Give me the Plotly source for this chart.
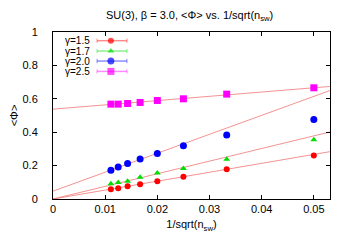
import plotly.graph_objects as go

# ---- data ----
x_vals = [0.0111, 0.0125, 0.0143, 0.0167, 0.0200, 0.0250, 0.0333, 0.0500]
phi_g15 = [0.059, 0.065, 0.076, 0.088, 0.106, 0.133, 0.178, 0.261]
phi_g17 = [0.091, 0.099, 0.106, 0.130, 0.156, 0.182, 0.238, 0.355]
phi_g20 = [0.172, 0.192, 0.212, 0.240, 0.273, 0.319, 0.383, 0.476]
phi_g25 = [0.568, 0.568, 0.572, 0.578, 0.590, 0.600, 0.628, 0.666]
series_names = ["γ=1.5", "γ=1.7", "γ=2.0", "γ=2.5"]
fit_slope = [5.34, 7.56, 11.35, 2.56]
fit_intercept = [0.0, 0.0, 0.047, 0.538]
x_ticks = [0, 0.01, 0.02, 0.03, 0.04, 0.05]
y_ticks = [0, 0.2, 0.4, 0.6, 0.8, 1]
x_range = [0, 0.0531]

series = [phi_g15, phi_g17, phi_g20, phi_g25]
colors = ["#ff0000", "#00dd00", "#0000ff", "#ff00ff"]
light = ["rgba(255,0,0,0.45)", "rgba(0,220,0,0.45)", "rgba(0,0,255,0.45)", "rgba(255,0,255,0.45)"]
symbols = ["circle", "triangle-up", "circle", "square"]
sizes = [6, 6, 7, 7]
FONT = "Liberation Sans, Arial, Helvetica, sans-serif"

fig = go.Figure()

# fit lines
for s, b in zip(fit_slope, fit_intercept):
    fig.add_trace(go.Scatter(
        x=x_range, y=[b + s * x_range[0], b + s * x_range[1]],
        mode="lines", line=dict(color="rgba(240,110,110,0.75)", width=1),
        showlegend=False, hoverinfo="skip"))

# data points
for ys, c, sym, sz, nm in zip(series, colors, symbols, sizes, series_names):
    fig.add_trace(go.Scatter(
        x=x_vals, y=ys, mode="markers", name=nm,
        marker=dict(color=c, symbol=sym, size=sz, line=dict(width=0)),
        showlegend=False))

# manual legend (gnuplot style: text left, sample right)
leg_y = [0.948, 0.886, 0.826, 0.764]
lx0, lx1, lxm, ltext = 0.159, 0.267, 0.209, 0.141
for i, nm in enumerate(series_names):
    y = leg_y[i]
    fig.add_annotation(x=ltext, y=y, xref="paper", yref="paper", text=nm,
                       showarrow=False, xanchor="right", yanchor="middle",
                       font=dict(family=FONT, size=10, color="black"))
    fig.add_shape(type="line", xref="paper", yref="paper", x0=lx0, x1=lx1, y0=y, y1=y,
                  line=dict(color=light[i], width=1.5))
    for xc in (lx0, lx1):
        fig.add_shape(type="line", xref="paper", yref="paper", x0=xc, x1=xc,
                      y0=y - 0.013, y1=y + 0.013, line=dict(color=light[i], width=1))
fig.add_trace(go.Scatter(
    x=[lxm] * 4, y=leg_y, xaxis="x2", yaxis="y2", mode="markers",
    marker=dict(color=colors, symbol=symbols, size=sizes, line=dict(width=0)),
    showlegend=False, hoverinfo="skip"))

# title
fig.add_annotation(x=0.494, y=1.143, xref="paper", yref="paper",
                   text="SU(3), β = 3.0, <Φ> vs. 1/sqrt(n<sub>sw</sub>)",
                   showarrow=False, xanchor="center", yanchor="top", borderpad=0,
                   font=dict(family=FONT, size=11, color="black"))

axis_common = dict(showline=True, linecolor="black", linewidth=1, mirror="ticks",
                   ticks="inside", ticklen=4, tickcolor="black", showgrid=False,
                   zeroline=False, automargin=False,
                   tickfont=dict(family=FONT, size=11, color="black"))

# page body has an 8px margin: figure size/margins compensate for it
fig.update_layout(
    width=342, height=237,
    margin=dict(l=45, r=19.5, t=24, b=45.5),
    paper_bgcolor="white", plot_bgcolor="white",
    font=dict(family=FONT, size=11, color="black"),
    xaxis=dict(range=x_range, tickvals=x_ticks, ticktext=[str(v) for v in x_ticks],
               title=dict(text="1/sqrt(n<sub>sw</sub>)", standoff=6,
                          font=dict(family=FONT, size=11)), **axis_common),
    yaxis=dict(range=[0, 1], tickvals=y_ticks, ticktext=[str(v) for v in y_ticks],
               ticklabelstandoff=12,
               title=dict(text="<Φ>", standoff=2, font=dict(family=FONT, size=11)),
               **axis_common),
    xaxis2=dict(range=[0, 1], overlaying="x", visible=False, fixedrange=True),
    yaxis2=dict(range=[0, 1], overlaying="y", visible=False, fixedrange=True),
    showlegend=False,
)

fig.write_html("out.html")
